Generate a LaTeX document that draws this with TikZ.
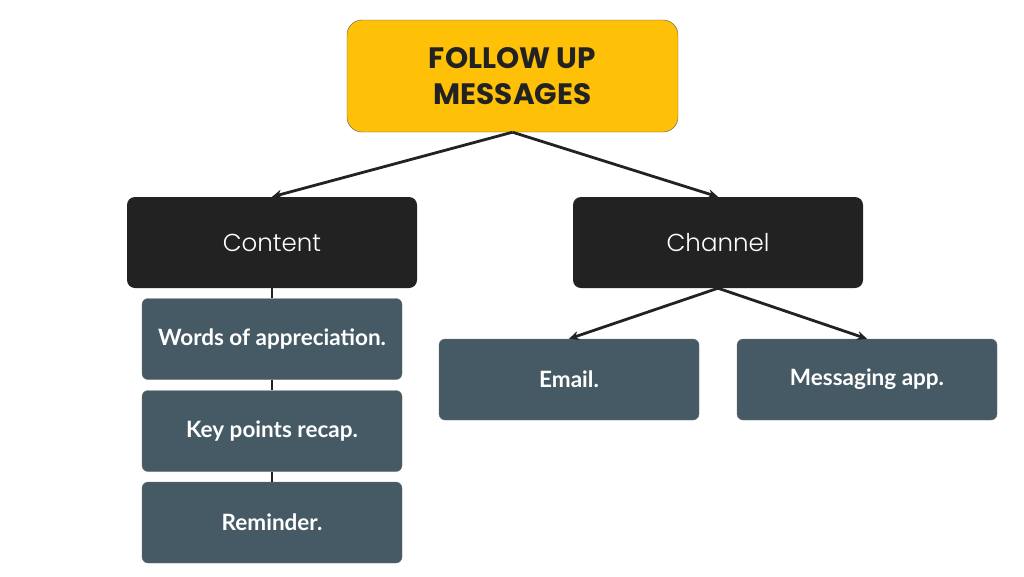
\documentclass[tikz,border=0pt]{standalone}
\usepackage{fontspec}
\setmainfont{Lato}
\newfontfamily\titlefont{Poppins}
\newfontfamily\headfont{Poppins}[UprightFont=* Light]
\usetikzlibrary{arrows.meta}
\definecolor{amber}{HTML}{FFC107}
\definecolor{ink}{HTML}{222222}
\definecolor{slate}{HTML}{455A64}
\begin{document}
\begin{tikzpicture}[x=1pt,y=-1pt,
    root/.style ={draw=black!65,fill=amber,rounded corners=15pt,minimum width=331pt,minimum height=112pt,align=center,font=\titlefont\bfseries\fontsize{29.5}{36}\selectfont,text=ink},
    branch/.style ={fill=ink,rounded corners=8pt,minimum width=290pt,minimum height=91pt,font=\headfont\fontsize{24.5}{28}\selectfont,text=white},
    leaf/.style ={draw=black!55,fill=slate,rounded corners=6pt,minimum width=260pt,minimum height=81pt,font=\bfseries\fontsize{22.5}{26}\selectfont,text=white},
    link/.style ={draw=ink,line width=2.8pt},
    arrow/.style ={link,-{Stealth[length=10pt,width=9pt]}}]
  \useasboundingbox (0,0) rectangle (1024,576);
  \node[root] (follow) at (512.5,76) {FOLLOW UP\\MESSAGES};
  \node[branch] (content) at (272,242.5) {Content};
  \node[branch] (channel) at (718,242.5) {Channel};
  \node[leaf] (words) at (272,339) {Words of appreciation.};
  \node[leaf] (recap) at (272,431) {Key points recap.};
  \node[leaf] (remind) at (272,522.5) {Reminder.};
  \node[leaf] (email) at (569,379.5) {Email.};
  \node[leaf] (app) at (867,379.5) {Messaging app.};
  % tree links
  \draw[arrow] (follow.south) -- (content.north);
  \draw[arrow] (follow.south) -- (channel.north);
  \draw[arrow] (channel.south) -- (email.north);
  \draw[arrow] (channel.south) -- (app.north);
  \draw[link] (content.south) -- (words.north);
  \draw[link] (words.south) -- (recap.north);
  \draw[link] (recap.south) -- (remind.north);
\end{tikzpicture}
\end{document}
